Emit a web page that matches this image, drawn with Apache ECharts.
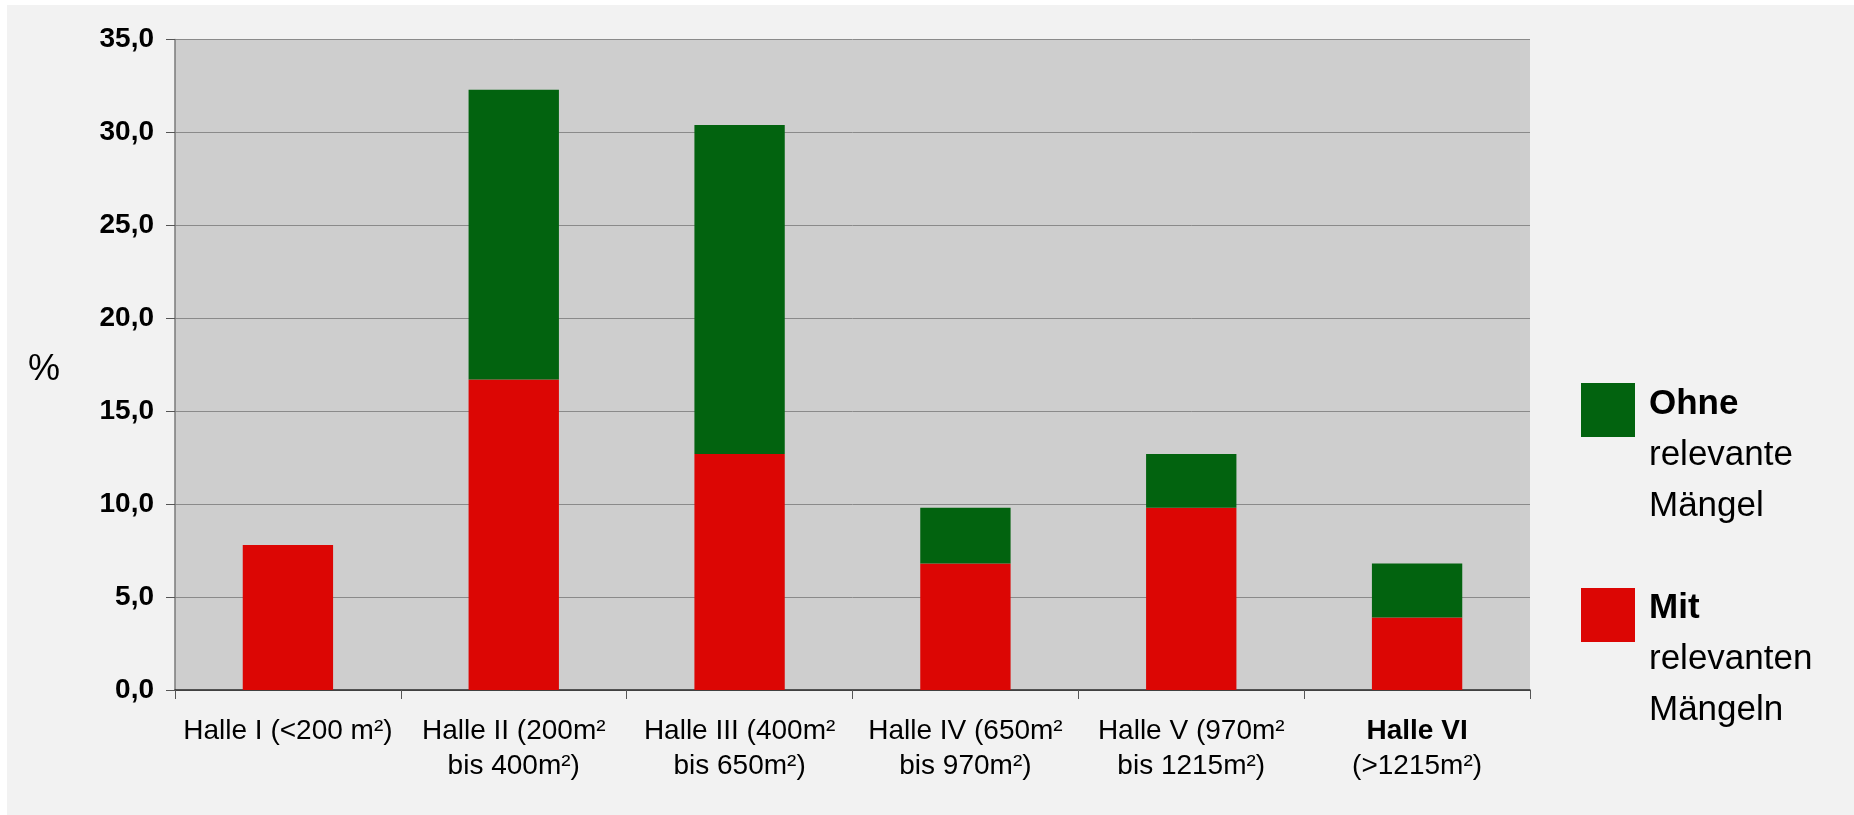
<!DOCTYPE html>
<html lang="de">
<head>
<meta charset="utf-8">
<title>Hallen nach Größe – relevante Mängel</title>
<script src="https://cdn.jsdelivr.net/npm/echarts@6/dist/echarts.min.js"></script>
<style>
  html, body { margin: 0; padding: 0; background: #ffffff; }
  #chart { position: absolute; left: 7px; top: 5px; width: 1847px; height: 810px; }
</style>
</head>
<body>
<div id="chart"></div>
<script>
// Hallenklassen (x-Achse)
const categories = [
  'Halle I (<200 m²)',
  'Halle II (200m²\nbis 400m²)',
  'Halle III (400m²\nbis 650m²)',
  'Halle IV (650m²\nbis 970m²)',
  'Halle V (970m²\nbis 1215m²)',
  'Halle VI\n(>1215m²)'
];
// Anteile in Prozent
const mitMaengeln = [7.8, 16.7, 12.7, 6.8, 9.8, 3.9];
const ohneMaengel = [0, 15.6, 17.7, 3.0, 2.9, 2.9];
// Beschriftung der y-Achse (0 bis 35 in 5er-Schritten)
const yTickLabels = ['0,0', '5,0', '10,0', '15,0', '20,0', '25,0', '30,0', '35,0'];

const RED = '#dc0604';
const GREEN = '#02630f';
const SANS = "'Liberation Sans', Arial, sans-serif";

const chart = echarts.init(document.getElementById('chart'), null, { renderer: 'canvas' });

// Legendeneintrag: erste Zeile fett, danach normale Zeilen
const legendLines = (x, y, lines) => lines.map((t, i) => ({
  type: 'text',
  left: x,
  top: y + i * 51,
  style: {
    text: t,
    fill: '#000',
    font: (i === 0 ? 'bold ' : '') + '35px ' + SANS,
    verticalAlign: 'top'
  }
}));

chart.setOption({
  backgroundColor: '#f2f2f2',
  animation: false,
  grid: {
    left: 168,
    top: 34.5,
    width: 1355,
    height: 650.5,
    show: true,
    backgroundColor: '#cecece',
    borderWidth: 0
  },
  xAxis: {
    type: 'category',
    data: categories,
    axisLine: { lineStyle: { color: '#2a2a2a', width: 1.5 } },
    axisTick: { show: true, length: 9, lineStyle: { color: '#555', width: 1 } },
    axisLabel: {
      interval: 0,
      margin: 24,
      color: '#000',
      fontFamily: SANS,
      fontSize: 28,
      lineHeight: 35,
      formatter: (v) => v.startsWith('Halle VI')
        ? v.replace('Halle VI', '{b|Halle VI}')
        : v,
      rich: {
        b: { fontWeight: 'bold', fontFamily: SANS, fontSize: 28, lineHeight: 35, color: '#000' }
      }
    }
  },
  yAxis: {
    type: 'value',
    min: 0,
    max: 35,
    interval: 5,
    axisLine: { show: true, lineStyle: { color: '#7a7a7a', width: 1.5 } },
    axisTick: { show: true, length: 9, lineStyle: { color: '#555', width: 1 } },
    axisLabel: {
      margin: 21,
      color: '#000',
      fontFamily: SANS,
      fontWeight: 'bold',
      fontSize: 28,
      formatter: (v) => yTickLabels[Math.round(v / 5)]
    },
    splitLine: { show: true, lineStyle: { color: '#8a8a8a', width: 1 } }
  },
  series: [
    {
      name: 'Mit relevanten Mängeln',
      type: 'bar',
      stack: 'anteil',
      barWidth: '40%',
      data: mitMaengeln,
      itemStyle: { color: RED }
    },
    {
      name: 'Ohne relevante Mängel',
      type: 'bar',
      stack: 'anteil',
      barWidth: '40%',
      data: ohneMaengel,
      itemStyle: { color: GREEN }
    }
  ],
  graphic: [
    {
      type: 'text',
      left: 21,
      top: 347,
      style: { text: '%', fill: '#000', font: '36px ' + SANS }
    },
    { type: 'rect', left: 1574, top: 378, shape: { width: 54, height: 54 }, style: { fill: GREEN } },
    { type: 'rect', left: 1574, top: 583, shape: { width: 54, height: 54 }, style: { fill: RED } },
    ...legendLines(1642, 382, ['Ohne', 'relevante', 'Mängel']),
    ...legendLines(1642, 586, ['Mit', 'relevanten', 'Mängeln'])
  ]
});
</script>
</body>
</html>
